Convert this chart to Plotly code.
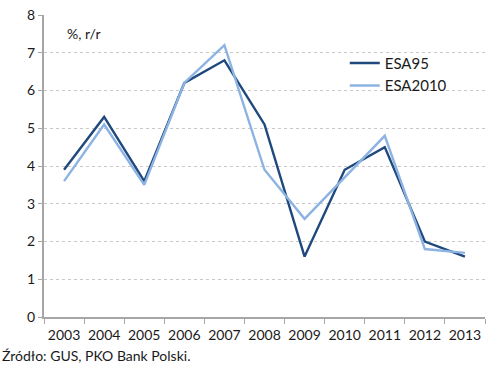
import plotly.graph_objects as go

years = ["2003", "2004", "2005", "2006", "2007", "2008", "2009", "2010", "2011", "2012", "2013"]
esa95 = [3.9, 5.3, 3.6, 6.2, 6.8, 5.1, 1.6, 3.9, 4.5, 2.0, 1.6]
esa2010 = [3.6, 5.1, 3.5, 6.2, 7.2, 3.9, 2.6, 3.7, 4.8, 1.8, 1.7]
y_ticks = [0, 1, 2, 3, 4, 5, 6, 7, 8]

FONT = "Lato"
TXT = "#1a1a1a"
AXIS = "#a6a6a6"

fig = go.Figure()
fig.add_trace(go.Scatter(x=years, y=esa95, mode="lines", name="ESA95",
                         line=dict(color="#1f497d", width=2.4)))
fig.add_trace(go.Scatter(x=years, y=esa2010, mode="lines", name="ESA2010",
                         line=dict(color="#8db3e2", width=2.4)))

fig.update_layout(
    width=489, height=365,
    margin=dict(l=44, r=4, t=15, b=48),
    paper_bgcolor="white", plot_bgcolor="white",
    font=dict(family=FONT, size=14, color=TXT),
    showlegend=True,
    legend=dict(x=0.682, y=0.895, xanchor="left", yanchor="top",
                bgcolor="rgba(0,0,0,0)", font=dict(family=FONT, size=15, color=TXT),
                itemwidth=30),
    xaxis=dict(type="category", range=[-0.5, 10.5], tickson="boundaries",
               ticks="outside", ticklen=5, ticklabelstandoff=4, tickangle=0,
               tickcolor=AXIS, showline=True, linecolor=AXIS, linewidth=2,
               showgrid=False, tickfont=dict(family=FONT, size=14, color=TXT)),
    yaxis=dict(range=[0, 8], tickvals=y_ticks, ticks="outside", ticklen=4,
               tickcolor=AXIS, showline=True, linecolor=AXIS, linewidth=2,
               showgrid=True, gridcolor="#c8c8c8", griddash="dot", gridwidth=1,
               zeroline=False, tickfont=dict(family=FONT, size=14, color=TXT)),
)

fig.add_annotation(text="%, r/r", xref="paper", yref="paper", x=0.047, y=0.94,
                   xanchor="left", yanchor="middle", showarrow=False,
                   font=dict(family=FONT, size=14, color=TXT))
fig.add_annotation(text="Źródło: GUS, PKO Bank Polski.", xref="paper", yref="paper",
                   x=-44 / 441, y=-38 / 302, xanchor="left", yanchor="middle",
                   showarrow=False, font=dict(family=FONT, size=14, color=TXT))

fig.write_html("out.html")
